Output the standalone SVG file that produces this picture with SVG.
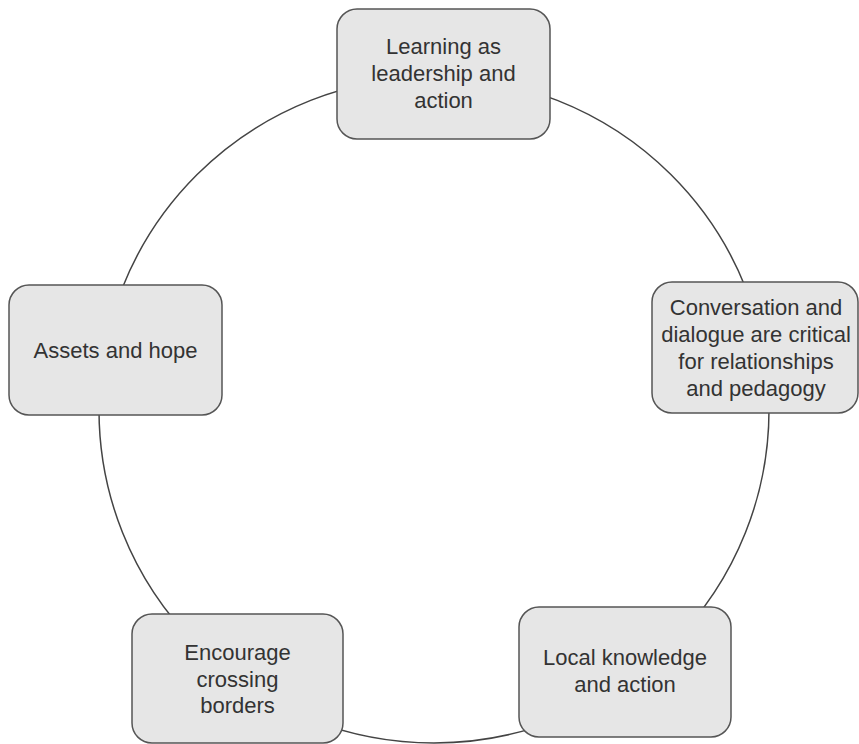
<svg xmlns="http://www.w3.org/2000/svg" width="859" height="744" viewBox="0 0 859 744">
  <style>
    .box { fill: #e6e6e6; stroke: #555555; stroke-width: 1.5; }
    .label { font-family: "Liberation Sans", Arial, sans-serif; font-size: 22px; fill: #333333; text-anchor: middle; }
    .ring { fill: none; stroke: #444444; stroke-width: 1.5; }
  </style>
  <rect width="859" height="744" fill="#ffffff"/>
  <g id="connectors">
    <ellipse class="ring" cx="434" cy="410" rx="335" ry="333"/>
  </g>
  <g id="node-learning">
    <rect class="box" x="337" y="9" width="213" height="130" rx="20"/>
    <text class="label" x="443.5" y="54">Learning as</text>
    <text class="label" x="443.5" y="81">leadership and</text>
    <text class="label" x="443.5" y="108">action</text>
  </g>
  <g id="node-conversation">
    <rect class="box" x="652" y="282" width="206" height="131" rx="20"/>
    <text class="label" x="756" y="315">Conversation and</text>
    <text class="label" x="756" y="342">dialogue are critical</text>
    <text class="label" x="756" y="369">for relationships</text>
    <text class="label" x="756" y="396">and pedagogy</text>
  </g>
  <g id="node-assets">
    <rect class="box" x="9" y="285" width="213" height="130" rx="20"/>
    <text class="label" x="115.5" y="358">Assets and hope</text>
  </g>
  <g id="node-borders">
    <rect class="box" x="132" y="614" width="211" height="129" rx="20"/>
    <text class="label" x="237.5" y="660">Encourage</text>
    <text class="label" x="237.5" y="687">crossing</text>
    <text class="label" x="237.5" y="713">borders</text>
  </g>
  <g id="node-local">
    <rect class="box" x="519" y="607" width="212" height="130" rx="20"/>
    <text class="label" x="625" y="665">Local knowledge</text>
    <text class="label" x="625" y="692">and action</text>
  </g>
</svg>
